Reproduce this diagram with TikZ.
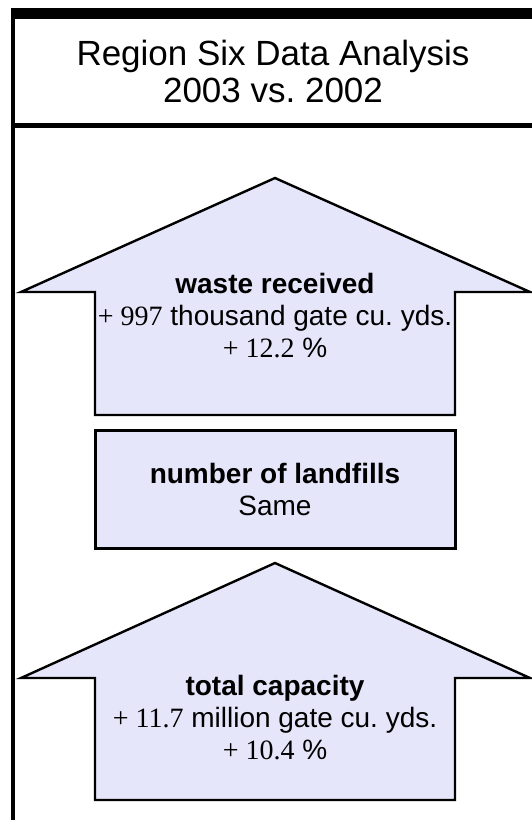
\documentclass[tikz,border=0pt]{standalone}
\usepackage{fontspec}
\setmainfont{Liberation Sans}
\newfontfamily\tnr{Liberation Serif}
\usetikzlibrary{positioning}
\definecolor{lavbox}{RGB}{230,230,250}

\begin{document}
\begin{tikzpicture}[x=1pt, y=-1pt,
    up_arrow/.style ={draw=black, line width=2.4pt, fill=lavbox, line join=miter},
    block_center/.style ={rectangle, draw=black, line width=3pt, fill=lavbox,
      minimum width=360pt, minimum height=118pt, align=center, inner sep=0pt,
      font=\fontsize{28}{32}\selectfont},
    block_text/.style ={align=center, inner sep=0pt,
      font=\fontsize{28}{32}\selectfont},
    title_text/.style ={align=center, inner sep=0pt,
      font=\fontsize{35}{37}\selectfont}]
    \useasboundingbox (0,0) rectangle (532,820);
    % frame
    \fill (11,8) rectangle (532,19);
    \fill (11,8) rectangle (14.5,820);
    \fill (11,123) rectangle (532,128);
    \node [title_text] (title) at (273,71) {Region Six Data Analysis\\2003 vs.\ 2002};
    % arrow 1
    \path [up_arrow] (21,292) -- (275,178) -- (530,292) -- (455,292)
      -- (455,415) -- (95,415) -- (95,292) -- cycle;
    \node [block_text] (waste) at (275,316) {\textbf{waste received}\\
      {\tnr + 997} thousand gate cu.\ yds.\\
      {\tnr + 12.2} \%};
    % box
    \node [block_center] (landfills) at (275,489) {\textbf{number of landfills}\\Same};
    % arrow 2
    \path [up_arrow] (21,678) -- (275,563) -- (530,678) -- (455,678)
      -- (455,800) -- (95,800) -- (95,678) -- cycle;
    \node [block_text] (capacity) at (275,718) {\textbf{total capacity}\\
      {\tnr + 11.7} million gate cu.\ yds.\\
      {\tnr + 10.4} \%};
\end{tikzpicture}
\end{document}
